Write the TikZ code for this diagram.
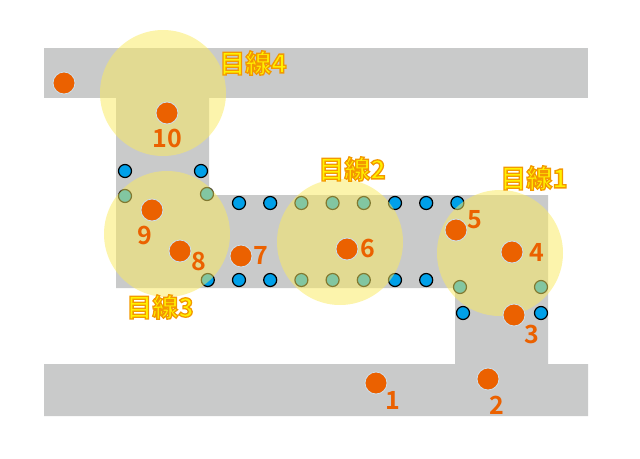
\documentclass[tikz,border=0pt]{standalone}
\usepackage{fontspec}
\newfontfamily\jpfont{Noto Sans CJK JP}[UprightFont=* Bold]
\definecolor{roadgray}{RGB}{201,202,202}
\definecolor{dotorange}{RGB}{235,97,0}
\definecolor{sensorblue}{RGB}{0,160,233}
\definecolor{viewyellow}{RGB}{250,234,95}
\definecolor{textyellow}{RGB}{255,241,0}
% outlined text: fill in the text colour, stroke in orange
\newcommand\outlined[1]{\special{pdf:literal direct 2 Tr 1.3 w 0.953 0.596 0 RG}#1\special{pdf:literal direct 0 Tr}}
\begin{document}
\begin{tikzpicture}[x=1pt, y=-1pt,
  every node/.style={inner sep=0pt},
  person/.style={circle, fill=dotorange, draw={rgb,255:red,205;green,225;blue,240}, line width=0.8pt, minimum size=22pt},
  sensor/.style={circle, fill=sensorblue, draw=black, line width=1.2pt, minimum size=13pt},
  view/.style={circle, fill=viewyellow, fill opacity=0.52, minimum size=126pt},
  num/.style={font=\jpfont\fontsize{25}{25}\selectfont, text=dotorange},
  viewname/.style={font=\jpfont\fontsize{26}{26}\selectfont, text=textyellow}]
  \useasboundingbox (0,0) rectangle (640,458);

  % corridors
  \fill[roadgray] (44,48) rectangle (588,98);
  \fill[roadgray] (116,98) -- (209,98) -- (209,195) -- (548,195) -- (548,364)
    -- (588,364) -- (588,416) -- (44,416) -- (44,364) -- (455,364)
    -- (455,288) -- (116,288) -- cycle;

  % sensors
  \node[sensor] (s1) at (125,171) {};
  \node[sensor] (s2) at (201,171) {};
  \node[sensor] (s3) at (125,196) {};
  \node[sensor] (s4) at (207,194) {};
  \foreach \i in {0,...,7} {
    \node[sensor] (top\i) at ({239+31.2*\i},203) {};
    \node[sensor] (bot\i) at ({207.8+31.2*\i},280) {};
  }
  \node[sensor] (s5) at (460,287) {};
  \node[sensor] (s6) at (541,287) {};
  \node[sensor] (s7) at (463,313) {};
  \node[sensor] (s8) at (541,313) {};

  % lines of sight
  \node[view] (v1) at (500,253) {};
  \node[view] (v2) at (340,242) {};
  \node[view] (v3) at (167,234) {};
  \node[view] (v4) at (163,93) {};

  % people
  \node[person] (p0) at (64,83) {};
  \node[person] (p1) at (376,383) {};
  \node[person] (p2) at (488,379) {};
  \node[person] (p3) at (514,315) {};
  \node[person] (p4) at (512,252) {};
  \node[person] (p5) at (456,230) {};
  \node[person] (p6) at (347,249) {};
  \node[person] (p7) at (241,256) {};
  \node[person] (p8) at (180,251) {};
  \node[person] (p9) at (152,210) {};
  \node[person] (p10) at (167,113) {};

  \node[num] (n1) at (393,400) {1};
  \node[num] (n2) at (497,405) {2};
  \node[num] (n3) at (532,334) {3};
  \node[num] (n4) at (537,252) {4};
  \node[num] (n5) at (475,220) {5};
  \node[num] (n6) at (368,248) {6};
  \node[num] (n7) at (261,255) {7};
  \node[num] (n8) at (199,261) {8};
  \node[num] (n9) at (145,235) {9};
  \node[num] (n10) at (167,138) {10};

  \node[viewname] (t1) at (534,178) {\outlined{目線1}};
  \node[viewname] (t2) at (352,169) {\outlined{目線2}};
  \node[viewname] (t3) at (160,307) {\outlined{目線3}};
  \node[viewname] (t4) at (253,63) {\outlined{目線4}};
\end{tikzpicture}
\end{document}
